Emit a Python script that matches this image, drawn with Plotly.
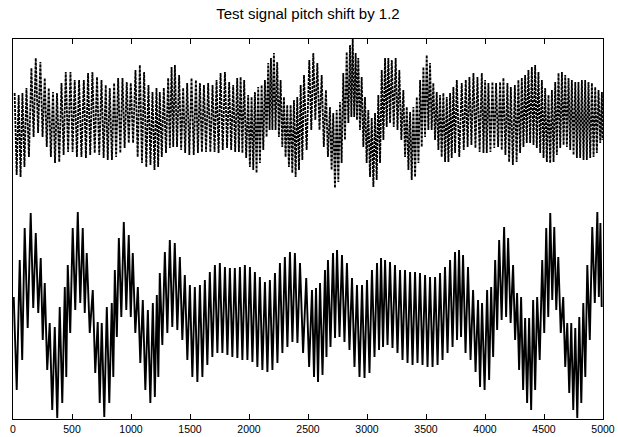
import plotly.graph_objects as go

TITLE = "Test signal pitch shift by 1.2"
X_TICKS = [0, 500, 1000, 1500, 2000, 2500, 3000, 3500, 4000, 4500, 5000]
X_END = 5000
TOP_OFFSET = 200

# Original signal (lower trace): per oscillation cycle, sample position, crest and trough values
bottom_t = [6, 57, 99, 150, 193, 235, 269, 311, 354, 396,
            439, 464, 506, 549, 591, 625, 676, 718, 752, 795,
            837, 863, 897, 939, 981, 1015, 1058, 1100, 1143, 1185,
            1219, 1244, 1287, 1329, 1371, 1414, 1456, 1499, 1541, 1584,
            1626, 1668, 1711, 1753, 1796, 1838, 1880, 1923, 1965, 2008,
            2050, 2092, 2135, 2177, 2220, 2262, 2304, 2347, 2389, 2432,
            2485, 2534, 2568, 2602, 2644, 2669, 2712, 2746, 2788, 2830,
            2873, 2915, 2958, 3000, 3042, 3085, 3119, 3153, 3195, 3237,
            3280, 3322, 3365, 3407, 3449, 3492, 3534, 3577, 3619, 3661,
            3704, 3746, 3780, 3814, 3856, 3899, 3941, 3975, 4018, 4052,
            4086, 4120, 4162, 4196, 4238, 4272, 4306, 4340, 4374, 4408,
            4442, 4485, 4519, 4553, 4587, 4621, 4663, 4697, 4731, 4765,
            4799, 4833, 4867, 4909, 4952, 4978]
bottom_hi = [18, 55, 87, 102, 82, 57, 32, -8, -12, 8,
             28, 50, 87, 103, 87, 62, 25, -7, -8, 8,
             12, 45, 77, 93, 80, 62, 28, 15, 5, 12,
             20, 42, 63, 75, 72, 58, 40, 30, 28, 30,
             35, 43, 50, 52, 48, 47, 47, 48, 50, 48,
             43, 38, 33, 35, 42, 52, 58, 63, 62, 52,
             37, 25, 27, 32, 45, 55, 62, 65, 60, 52,
             37, 30, 30, 35, 45, 52, 57, 55, 53, 50,
             45, 45, 43, 43, 42, 40, 38, 38, 42, 48,
             55, 63, 65, 60, 48, 25, 15, 12, 25, 28,
             55, 75, 88, 77, 50, 22, 18, -3, -3, 15,
             18, 55, 87, 102, 88, 58, 18, -8, -8, -13,
             -2, 12, 50, 88, 103, 92]
bottom_lo = [-75, -45, -13, 7, 2, -25, -55, -95, -103, -88,
             -62, -18, 5, 12, 2, -18, -58, -88, -102, -88,
             -62, -22, -2, 5, -2, -18, -48, -75, -88, -82,
             -62, -30, -18, -12, -15, -25, -45, -62, -67, -62,
             -50, -42, -38, -38, -40, -42, -43, -45, -45, -47,
             -52, -55, -57, -55, -48, -38, -32, -27, -28, -38,
             -52, -62, -67, -60, -42, -32, -23, -22, -27, -35,
             -52, -62, -63, -58, -42, -35, -32, -30, -33, -38,
             -45, -48, -50, -48, -50, -52, -52, -50, -45, -38,
             -32, -25, -22, -38, -45, -57, -72, -75, -65, -42,
             -15, -5, -2, -8, -25, -55, -75, -88, -95, -75,
             -45, -18, -2, 15, 5, -18, -52, -78, -95, -103,
             -88, -62, -25, 12, 18, 8]

# Pitch-shifted signal (upper trace)
top_t = [14, 48, 80, 114, 156, 193, 232, 269, 303, 339,
         373, 411, 447, 487, 523, 560, 600, 636, 673, 712,
         750, 786, 820, 857, 891, 928, 964, 998, 1038, 1075,
         1111, 1148, 1182, 1216, 1244, 1278, 1315, 1344, 1372, 1408,
         1442, 1476, 1513, 1550, 1584, 1618, 1654, 1691, 1725, 1759,
         1796, 1832, 1866, 1900, 1929, 1959, 1993, 2022, 2050, 2078,
         2107, 2135, 2163, 2186, 2211, 2239, 2268, 2296, 2324, 2353,
         2381, 2409, 2438, 2466, 2511, 2545, 2579, 2616, 2652, 2686,
         2714, 2743, 2771, 2799, 2828, 2856, 2879, 2904, 2926, 2955,
         2983, 3011, 3040, 3068, 3096, 3125, 3153, 3181, 3210, 3243,
         3274, 3308, 3337, 3365, 3393, 3422, 3450, 3478, 3506, 3534,
         3562, 3591, 3619, 3647, 3676, 3704, 3732, 3761, 3803, 3837,
         3868, 3902, 3936, 3973, 4001, 4029, 4063, 4094, 4128, 4156,
         4190, 4219, 4253, 4283, 4312, 4340, 4368, 4397, 4425, 4453,
         4482, 4510, 4538, 4567, 4595, 4623, 4652, 4680, 4708, 4736,
         4765, 4792, 4821, 4849, 4877, 4906, 4934, 4962, 4991]
top_hi = [22, 20, 22, 27, 47, 57, 53, 37, 27, 23,
          22, 32, 43, 43, 35, 35, 35, 42, 43, 38,
          35, 30, 27, 32, 37, 37, 33, 32, 45, 50,
          43, 30, 23, 27, 23, 27, 37, 48, 50, 40,
          27, 32, 37, 35, 32, 30, 32, 30, 35, 42,
          43, 33, 30, 37, 38, 35, 20, 18, 23, 28,
          30, 35, 52, 57, 62, 53, 35, 18, 10, 10,
          15, 18, 30, 40, 55, 62, 52, 40, 25, 8,
          2, 5, 13, 42, 63, 70, 76, 62, 57, 38,
          18, 5, -3, 2, 20, 45, 57, 57, 55, 57,
          45, 25, 8, 3, 8, 18, 35, 48, 60, 52,
          32, 23, 20, 22, 18, 22, 28, 35, 32, 35,
          38, 42, 38, 42, 35, 32, 33, 32, 33, 37,
          32, 28, 30, 35, 37, 40, 45, 48, 50, 43,
          35, 27, 20, 25, 33, 42, 43, 40, 37, 35,
          33, 33, 35, 35, 33, 32, 28, 25, 23]
top_lo = [-60, -62, -52, -42, -22, -18, -22, -32, -42, -48,
          -47, -40, -37, -37, -42, -42, -43, -40, -38, -40,
          -43, -45, -45, -42, -38, -33, -28, -28, -42, -48,
          -52, -50, -55, -52, -42, -38, -33, -32, -32, -35,
          -38, -40, -40, -38, -37, -37, -37, -37, -38, -35,
          -33, -35, -37, -37, -38, -43, -52, -55, -58, -48,
          -35, -22, -15, -15, -15, -22, -32, -42, -52, -58,
          -62, -55, -45, -35, -15, -5, -15, -32, -42, -55,
          -73, -67, -48, -25, -8, -2, -2, -5, -15, -32,
          -48, -62, -72, -65, -48, -25, -12, -8, -12, -15,
          -25, -42, -55, -65, -62, -48, -32, -22, -15, -15,
          -25, -35, -42, -47, -47, -43, -38, -42, -35, -32,
          -30, -33, -37, -38, -38, -37, -33, -32, -35, -40,
          -47, -50, -47, -38, -32, -28, -28, -30, -33, -38,
          -43, -47, -48, -47, -40, -33, -30, -32, -35, -40,
          -43, -43, -45, -45, -43, -42, -38, -28, -25]


def zigzag(t, hi, lo, end, offset=0):
    xs, ys = [], []
    n = len(t)
    for i in range(n):
        nxt = t[i + 1] if i + 1 < n else end
        xs.extend([t[i], (t[i] + nxt) / 2])
        ys.extend([hi[i] + offset, lo[i] + offset])
    return xs, ys


bx, by = zigzag(bottom_t, bottom_hi, bottom_lo, X_END)
tx, ty = zigzag(top_t, top_hi, top_lo, X_END, TOP_OFFSET)

FONT = "Liberation Sans, Arial, Helvetica, sans-serif"

fig = go.Figure()
fig.add_trace(go.Scatter(x=tx, y=ty, mode="lines",
                         line=dict(color="black", width=1.8, dash="3px,1px"),
                         hoverinfo="skip", showlegend=False))
fig.add_trace(go.Scatter(x=bx, y=by, mode="lines",
                         line=dict(color="black", width=1.9),
                         hoverinfo="skip", showlegend=False))

fig.update_layout(
    width=618, height=437,
    margin=dict(l=13, r=15, t=39, b=18, pad=0, autoexpand=False),
    paper_bgcolor="white", plot_bgcolor="white",
    font=dict(family=FONT, color="black"),
    title=dict(text=TITLE, x=0.5, xref="paper", xanchor="center",
               y=1 - 14 / 437, yref="container", yanchor="middle",
               automargin=False,
               font=dict(size=15, color="black", family=FONT)),
    showlegend=False,
)
fig.update_xaxes(
    range=[0, X_END], tickmode="array", tickvals=X_TICKS,
    ticktext=[str(v) for v in X_TICKS],
    ticks="inside", ticklen=5, tickwidth=1, tickcolor="black",
    showline=True, linecolor="black", linewidth=1, mirror="ticks",
    showgrid=False, zeroline=False, automargin=False,
    tickfont=dict(size=10.5, color="black", family=FONT),
)
fig.update_yaxes(
    range=[-104, 276], showticklabels=False, ticks="",
    showline=True, linecolor="black", linewidth=1, mirror=True,
    showgrid=False, zeroline=False, automargin=False,
)

fig.write_html(
    "out.html",
    config={"displayModeBar": False},
    post_script="document.body.style.margin='0px';document.body.style.overflow='hidden';",
)
